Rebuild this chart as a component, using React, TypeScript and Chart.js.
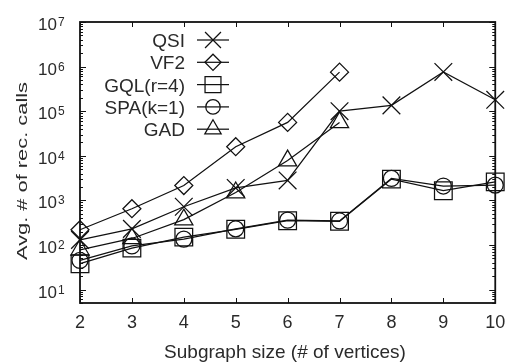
import React, { useEffect, useRef } from 'react';
import { Chart, registerables } from 'chart.js';
import { drawPoint } from 'chart.js/helpers';

Chart.register(...registerables);

// ---- data ----
const subgraphSizes = ['2', '3', '4', '5', '6', '7', '8', '9', '10'];
const qsiCalls = [130, 230, 720, 1900, 2800, 100000, 135000, 760000, 180000];
const vf2Calls = [220, 650, 2150, 16000, 56000, 750000, null, null, null];
const gqlCalls = [38, 85, 150, 225, 350, 340, 3000, 1650, 2600];
const spaCalls = [45, 95, 135, 230, 360, 345, 3100, 2100, 2200];
const gadCalls = [78, 140, 370, 1500, 7800, 56000, null, null, null];
const seriesNames = ['QSI', 'VF2', 'GQL(r=4)', 'SPA(k=1)', 'GAD'];
const yExponents = [1, 2, 3, 4, 5, 6, 7];
const yMin = 5;
const yMax = 1e7;
const xTitle = 'Subgraph size (# of vertices)';
const yTitle = 'Avg. # of rec. calls';

const styles: { pointStyle: any; radius: number }[] = [
  { pointStyle: 'crossRot', radius: 12.5 },
  { pointStyle: 'rectRot', radius: 9 },
  { pointStyle: 'rect', radius: 12.5 },
  { pointStyle: 'circle', radius: 8 },
  { pointStyle: 'triangle', radius: 10.5 },
];

const INK = '#111';
const TEXT = '#2a2a2a';
const FONT = '"Liberation Sans", Arial, Helvetica, sans-serif';
const LW = 1.25;

const framePlugin = {
  id: 'gnuFrame',
  beforeDatasetsDraw(chart: any) {
    const { ctx, chartArea: a, scales } = chart;
    const x = scales.x;
    const y = scales.y;
    ctx.save();
    ctx.strokeStyle = INK;
    ctx.lineWidth = 1;
    ctx.beginPath();
    subgraphSizes.forEach((_, i) => {
      const px = Math.round(x.getPixelForValue(i)) + 0.5;
      ctx.moveTo(px, a.bottom);
      ctx.lineTo(px, a.bottom - 5);
      ctx.moveTo(px, a.top);
      ctx.lineTo(px, a.top + 5);
    });
    for (let d = 0; d <= 7; d++) {
      for (let m = 1; m <= 9; m++) {
        const v = m * Math.pow(10, d);
        if (v < yMin || v > yMax) continue;
        const py = Math.round(y.getPixelForValue(v)) + 0.5;
        const len = m === 1 ? 6 : 3;
        ctx.moveTo(a.left, py);
        ctx.lineTo(a.left + len, py);
        ctx.moveTo(a.right, py);
        ctx.lineTo(a.right - len, py);
      }
    }
    ctx.stroke();
    ctx.lineWidth = 1.8;
    ctx.strokeRect(a.left, a.top, a.right - a.left, a.bottom - a.top);
    ctx.restore();
  },
  afterDraw(chart: any) {
    const { ctx, scales } = chart;
    const x = scales.x;
    const y = scales.y;
    ctx.save();
    ctx.fillStyle = TEXT;
    yExponents.forEach((e) => {
      const py = y.getPixelForValue(Math.pow(10, e));
      ctx.font = `17px ${FONT}`;
      ctx.textAlign = 'right';
      ctx.textBaseline = 'alphabetic';
      ctx.fillText('10', 57, py + 8);
      ctx.font = `12px ${FONT}`;
      ctx.textAlign = 'left';
      ctx.fillText(String(e), 58, py + 4);
    });
    ctx.font = `18px ${FONT}`;
    ctx.textAlign = 'center';
    subgraphSizes.forEach((lab, i) => {
      const px = x.getPixelForValue(i);
      ctx.fillText(lab, px, 328);
    });
    ctx.font = `19px ${FONT}`;
    ctx.fillText(xTitle, 285, 358);
    ctx.save();
    ctx.font = `14px ${FONT}`;
    const w = ctx.measureText(yTitle).width;
    ctx.translate(26.5, 171);
    ctx.rotate(-Math.PI / 2);
    ctx.scale(178 / w, 1);
    ctx.textAlign = 'center';
    ctx.fillText(yTitle, 0, 0);
    ctx.restore();
    seriesNames.forEach((name, i) => {
      const cy = 40 + i * 22.3;
      ctx.font = `19px ${FONT}`;
      ctx.textAlign = 'right';
      ctx.fillStyle = TEXT;
      ctx.fillText(name, 185, cy + 7);
      ctx.strokeStyle = INK;
      ctx.lineWidth = LW;
      ctx.beginPath();
      ctx.moveTo(197, cy);
      ctx.lineTo(229, cy);
      ctx.stroke();
      ctx.fillStyle = 'rgba(0,0,0,0)';
      drawPoint(ctx, { pointStyle: styles[i].pointStyle, radius: styles[i].radius * 0.9, rotation: 0, borderWidth: LW } as any, 213, cy);
    });
    ctx.restore();
  },
};

export default function App() {
  const ref = useRef<HTMLCanvasElement | null>(null);
  useEffect(() => {
    if (!ref.current) return;
    const series = [qsiCalls, vf2Calls, gqlCalls, spaCalls, gadCalls];
    const chart = new Chart(ref.current, {
      type: 'line',
      data: {
        labels: subgraphSizes,
        datasets: series.map((d, i) => ({
          label: seriesNames[i],
          data: d,
          borderColor: INK,
          borderWidth: LW,
          backgroundColor: 'rgba(0,0,0,0)',
          pointStyle: styles[i].pointStyle,
          pointRadius: styles[i].radius,
          pointBorderColor: INK,
          pointBackgroundColor: 'rgba(0,0,0,0)',
          pointBorderWidth: LW,
          tension: 0,
          fill: false,
          clip: false as any,
          spanGaps: false,
        })),
      },
      options: {
        animation: false,
        responsive: false,
        events: [],
        layout: { padding: { left: 80, right: 12, top: 22, bottom: 61 } },
        plugins: { legend: { display: false }, tooltip: { enabled: false } },
        scales: {
          x: { type: 'category', display: false, offset: false },
          y: { type: 'logarithmic', display: false, min: yMin, max: yMax },
        },
      },
      plugins: [framePlugin],
    });
    return () => chart.destroy();
  }, []);
  return (
    <canvas
      ref={ref}
      width={509}
      height={364}
      style={{ position: 'fixed', left: 0, top: 0, display: 'block', background: '#fff' }}
    />
  );
}
